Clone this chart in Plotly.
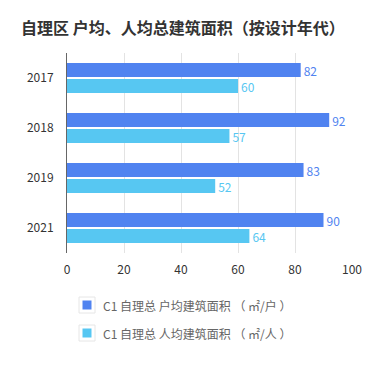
import plotly.graph_objects as go

years = ["2017", "2018", "2019", "2021"]
per_household = [82, 92, 83, 90]
per_person = [60, 57, 52, 64]
series_names = ["C1 自理总 户均建筑面积 （ ㎡/户 ）", "C1 自理总 人均建筑面积 （ ㎡/人 ）"]
colors = ["#5083F0", "#57C7F2"]
title = "自理区 户均、人均总建筑面积（按设计年代）"
x_ticks = [0, 20, 40, 60, 80, 100]

font_family = "Noto Sans CJK SC, Noto Sans, sans-serif"

fig = go.Figure()
for vals, name, c in zip([per_household, per_person], series_names, colors):
    fig.add_trace(go.Bar(
        y=years, x=vals, name=name, orientation="h",
        marker=dict(color=c, line=dict(width=0)),
        text=[str(v) for v in vals], textposition="outside",
        textfont=dict(color=c, size=12, family=font_family),
        constraintext="none",
        cliponaxis=False, showlegend=False,
    ))

OFF = 8  # default page body margin
W, H = 379 - 2 * OFF, 366 - 2 * OFF
# plot area in window pixels: x 67..352, y 53..253
ml = 67 - OFF
mr = W - (352 - OFF)
mt = 53 - OFF
mb = H - (253 - OFF)
pw, ph = W - ml - mr, H - mt - mb

def px_x(px):
    return (px - OFF - ml) / pw

def px_y(py):
    return (H - mb - (py - OFF)) / ph

shapes = []
annotations = [dict(text="<b>" + title + "</b>", x=px_x(19), y=px_y(27), xref="paper", yref="paper",
                    showarrow=False, xanchor="left", yanchor="middle",
                    font=dict(size=16, color="#333333", family=font_family))]

for i, (name, c) in enumerate(zip(series_names, colors)):
    cy = 305 + i * 28
    cx = 87
    shapes.append(dict(type="rect", xref="paper", yref="paper",
                       x0=px_x(cx - 8), x1=px_x(cx + 8), y0=px_y(cy + 8), y1=px_y(cy - 8),
                       line=dict(color="#e6e6e6", width=1), fillcolor="white"))
    shapes.append(dict(type="rect", xref="paper", yref="paper",
                       x0=px_x(cx - 4.5), x1=px_x(cx + 4.5), y0=px_y(cy + 4.5), y1=px_y(cy - 4.5),
                       line=dict(width=0), fillcolor=c))
    annotations.append(dict(text=name, x=px_x(101), y=px_y(cy), xref="paper", yref="paper",
                            showarrow=False, xanchor="left", yanchor="middle",
                            font=dict(size=12, color="#666666", family=font_family)))

fig.update_layout(
    width=W, height=H,
    margin=dict(l=ml, r=mr, t=mt, b=mb, pad=0, autoexpand=False),
    paper_bgcolor="white", plot_bgcolor="white",
    barmode="group", bargap=0.36, bargroupgap=0.125,
    font=dict(family=font_family, size=12, color="#333333"),
    shapes=shapes, annotations=annotations,
    showlegend=False,
)
fig.update_xaxes(range=[0, 100], tickvals=x_ticks, showgrid=True, gridcolor="#e3e3e3", gridwidth=1,
                 zeroline=False, showline=False, ticks="", tickfont=dict(size=12, color="#333333"),
                 ticklabelstandoff=8, automargin=False)
fig.update_yaxes(autorange="reversed", showline=True, linecolor="#666666", linewidth=1,
                 ticks="", showgrid=False, tickfont=dict(size=12, color="#333333"),
                 ticklabelstandoff=10, automargin=False)

fig.write_html("out.html")
